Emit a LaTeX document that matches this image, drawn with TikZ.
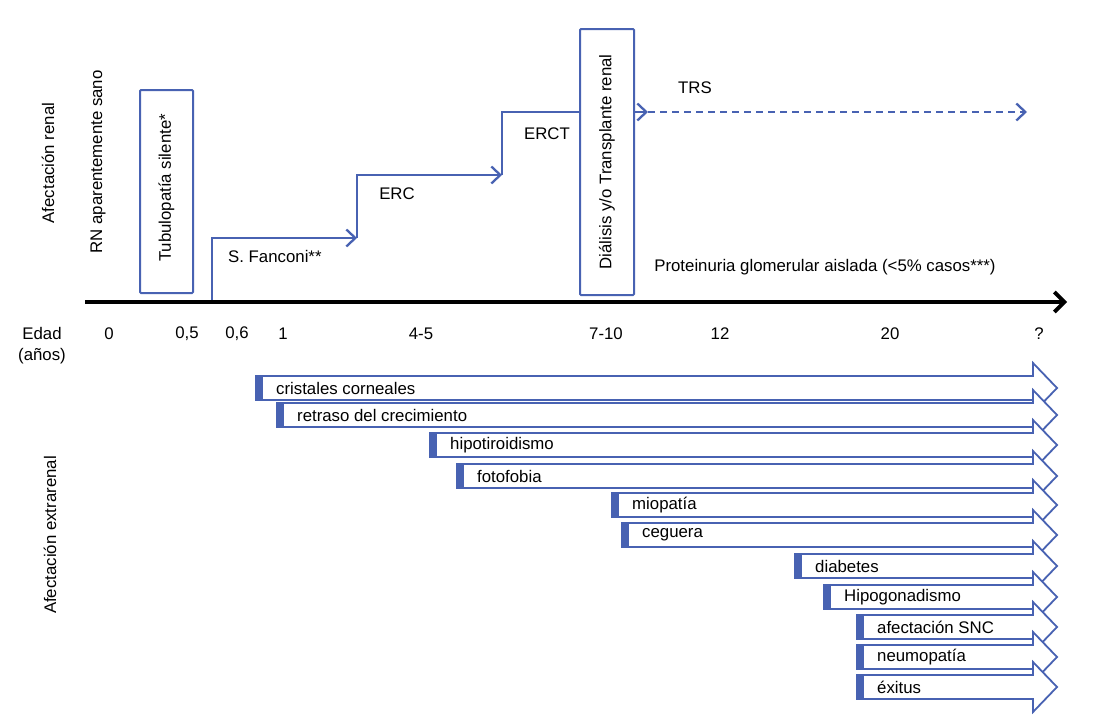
\documentclass[tikz,border=0pt]{standalone}
\usepackage{fontspec}
\setmainfont{Liberation Sans}
\usetikzlibrary{arrows.meta,positioning}
\definecolor{renalblue}{RGB}{72,98,178}
\tikzset{
	lbl/.style={font=\fontsize{16.8}{19}\selectfont, inner sep=0pt},
	vlbl/.style={lbl, rotate=90},
	phase/.style={draw=renalblue, line width=2pt, rounded corners=1pt},
	course/.style={draw=renalblue, line width=2.3pt, -{Straight Barb[length=9pt,width=17pt]}},
}
% one extrarenal finding: name, start x, centre y, text
\newcommand{\extra}[4]{%
	\draw[renalblue, line width=1.8pt, fill=white] (#2,#3-12) -- (1033,#3-12) -- (1033,#3-25) -- (1057,#3) -- (1033,#3+25) -- (1033,#3+12) -- (#2,#3+12) -- cycle;
	\fill[renalblue] (#2,#3-12) rectangle (#2+7,#3+12);
	\node[lbl, anchor=west] (#1) at (#2+20,#3) {#4};
}

\begin{document}
\begin{tikzpicture}[x=1pt, y=-1pt]
		\useasboundingbox (0,0) rectangle (1098,723);
		%
		\node[vlbl] (renal) at (48,163) {Afectación renal};
		\node[vlbl] (rn) at (98,162) {RN aparentemente sano};
		\node[phase, minimum width=53pt, minimum height=203pt] (tub) at (166.5,191.5) {};
		\node[vlbl] (tubtxt) at (166.5,188) {Tubulopatía silente*};
		\node[phase, minimum width=54pt, minimum height=266pt] (dial) at (607,162) {};
		\node[vlbl] (dialtxt) at (dial.center) {Diálisis y/o Transplante renal};
		%
		\coordinate (s0) at (212,302);
		\coordinate (s1) at (212,238);
		\coordinate (s2) at (357,238);
		\coordinate (s3) at (357,175);
		\coordinate (s4) at (502,175);
		\coordinate (s5) at (502,112);
		\coordinate (s6) at (648,112);
		\coordinate (s7) at (1027,112);
		\draw [course] (s0) -- (s1) -- (s2);
		\draw [course] (s2) -- (s3) -- (s4);
		\draw [draw=renalblue, line width=2.3pt] (s4) -- (s5) -- (dial.west |- s5);
		\draw [course] (dial.east |- s6) -- (s6);
		\draw [course, dashed, dash pattern=on 7pt off 5pt] (s6) -- (s7);
		%
		\node[lbl, anchor=west] (fanconi) at (228,256) {S. Fanconi**};
		\node[lbl] (erc) at (397,194) {ERC};
		\node[lbl] (erct) at (547,134) {ERCT};
		\node[lbl] (trs) at (695,88) {TRS};
		\node[lbl] (prot) at (825,267) {Proteinuria glomerular aislada (<5\% casos***)};
		%
		\coordinate (ax0) at (85,302);
		\coordinate (ax1) at (1067,302);
		\draw [line width=3.8pt, -{Straight Barb[length=10pt,width=20pt]}] (ax0) -- (ax1);
		\node[lbl] (edad) at (42,333) {Edad};
		\node[lbl] (anos) at (42,356) {(años)};
		\node[lbl] (t0) at (109,334) {0};
		\node[lbl] (t1) at (187,334) {0,5};
		\node[lbl] (t2) at (237,334) {0,6};
		\node[lbl] (t3) at (283,334) {1};
		\node[lbl] (t4) at (421,334) {4-5};
		\node[lbl] (t5) at (606,334) {7-10};
		\node[lbl] (t6) at (720,334) {12};
		\node[lbl] (t7) at (890,334) {20};
		\node[lbl] (t8) at (1039,334) {?};
		%
		\node[vlbl] (extrarenal) at (50,535) {Afectación extrarenal};
		\extra{corn}{256}{388}{cristales corneales}
		\extra{crec}{277}{415}{retraso del crecimiento}
		\extra{tiro}{430}{445}{hipotiroidismo}
		\extra{foto}{457}{476}{fotofobia}
		\extra{mio}{612}{505}{miopatía}
		\extra{ceg}{622}{535}{ceguera}
		\extra{diab}{795}{566}{diabetes}
		\extra{gona}{824}{597}{Hipogonadismo}
		\extra{snc}{857}{627}{afectación SNC}
		\extra{neumo}{857}{657}{neumopatía}
		\extra{exit}{857}{687}{éxitus}
	\end{tikzpicture}
\end{document}
